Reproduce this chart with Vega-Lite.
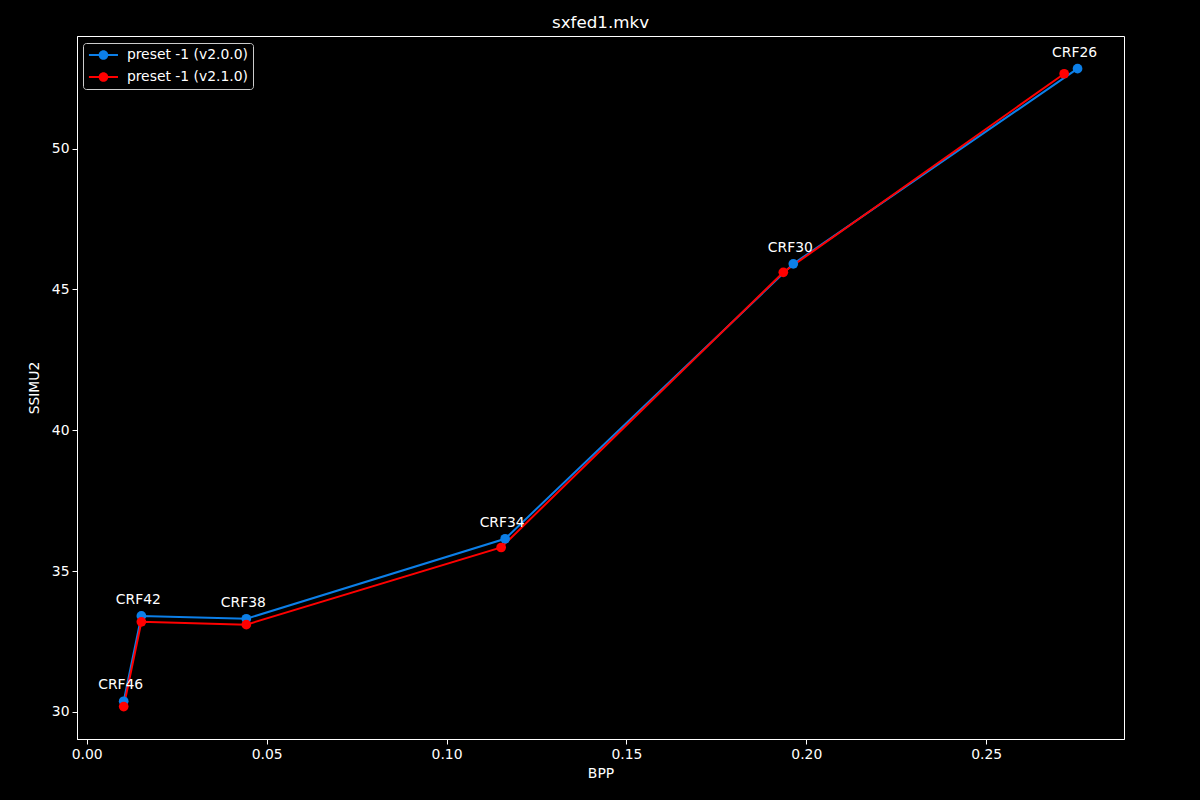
{
  "$schema": "https://vega.github.io/schema/vega-lite/v6.json",
  "width": 1047,
  "height": 703,
  "autosize": "none",
  "padding": {"left": 77, "top": 36, "right": 76, "bottom": 61},
  "background": "black",
  "title": {"text": "sxfed1.mkv", "color": "white", "font": "DejaVu Sans", "fontSize": 16.7, "fontWeight": "normal", "offset": 4},
  "config": {
    "view": {"stroke": "white", "strokeWidth": 1},
    "font": "DejaVu Sans",
    "axis": {
      "grid": false, "domainColor": "white", "tickColor": "white", "labelColor": "white", "titleColor": "white",
      "labelFont": "DejaVu Sans", "titleFont": "DejaVu Sans", "labelFontSize": 13.9, "titleFontSize": 13.9,
      "titleFontWeight": "normal", "tickSize": 5, "labelPadding": 3
    }
  },
  "data": {"values": [
    {"series": "preset -1 (v2.0.0)", "crf": "CRF46", "bpp": 0.01028, "ssimu2": 30.38},
    {"series": "preset -1 (v2.0.0)", "crf": "CRF42", "bpp": 0.01519, "ssimu2": 33.41},
    {"series": "preset -1 (v2.0.0)", "crf": "CRF38", "bpp": 0.04436, "ssimu2": 33.31},
    {"series": "preset -1 (v2.0.0)", "crf": "CRF34", "bpp": 0.11630, "ssimu2": 36.15},
    {"series": "preset -1 (v2.0.0)", "crf": "CRF30", "bpp": 0.19639, "ssimu2": 45.91},
    {"series": "preset -1 (v2.0.0)", "crf": "CRF26", "bpp": 0.27539, "ssimu2": 52.84},
    {"series": "preset -1 (v2.1.0)", "crf": "CRF46", "bpp": 0.01028, "ssimu2": 30.19},
    {"series": "preset -1 (v2.1.0)", "crf": "CRF42", "bpp": 0.01519, "ssimu2": 33.20},
    {"series": "preset -1 (v2.1.0)", "crf": "CRF38", "bpp": 0.04436, "ssimu2": 33.10},
    {"series": "preset -1 (v2.1.0)", "crf": "CRF34", "bpp": 0.11519, "ssimu2": 35.84},
    {"series": "preset -1 (v2.1.0)", "crf": "CRF30", "bpp": 0.19361, "ssimu2": 45.61},
    {"series": "preset -1 (v2.1.0)", "crf": "CRF26", "bpp": 0.27167, "ssimu2": 52.66}
  ]},
  "encoding": {
    "x": {"field": "bpp", "type": "quantitative", "title": "BPP",
      "scale": {"domain": [-0.0027, 0.2883], "nice": false, "zero": false},
      "axis": {"values": [0, 0.05, 0.1, 0.15, 0.2, 0.25], "format": ".2f", "titlePadding": 6}},
    "y": {"field": "ssimu2", "type": "quantitative", "title": "SSIMU2",
      "scale": {"domain": [29.04, 54.0], "nice": false, "zero": false},
      "axis": {"values": [30, 35, 40, 45, 50], "format": "d", "titlePadding": 10}},
    "color": {"field": "series", "type": "nominal",
      "scale": {"domain": ["preset -1 (v2.0.0)", "preset -1 (v2.1.0)"], "range": ["#0c7fe8", "#ff0000"]},
      "legend": {
        "title": null, "orient": "none", "legendX": 6, "legendY": 7,
        "fillColor": "black", "strokeColor": "#cccccc", "cornerRadius": 3, "padding": 5,
        "labelColor": "white", "labelFont": "DejaVu Sans", "labelFontSize": 13.9, "labelOffset": 16.5,
        "symbolType": "M-2.42,-0.173H2.42V0.173H-2.42Z M0.8,0 A0.8,0.8 0 1,1 -0.8,0 A0.8,0.8 0 1,1 0.8,0Z",
        "symbolSize": 144, "symbolOffset": 8.5, "symbolStrokeWidth": 0, "symbolOpacity": 1, "rowPadding": 7
      }
    }
  },
  "layer": [
    {
      "mark": {"type": "line", "strokeWidth": 2}
    },
    {
      "mark": {"type": "point", "filled": true, "opacity": 1, "size": 94, "shape": "circle"}
    },
    {
      "transform": [{"filter": "datum.series === 'preset -1 (v2.0.0)'"}],
      "mark": {"type": "text", "color": "white", "fontSize": 13.9, "font": "DejaVu Sans", "dy": -16, "dx": -3, "baseline": "middle", "align": "center"},
      "encoding": {"text": {"field": "crf"}, "color": {"value": "white"}}
    }
  ]
}
